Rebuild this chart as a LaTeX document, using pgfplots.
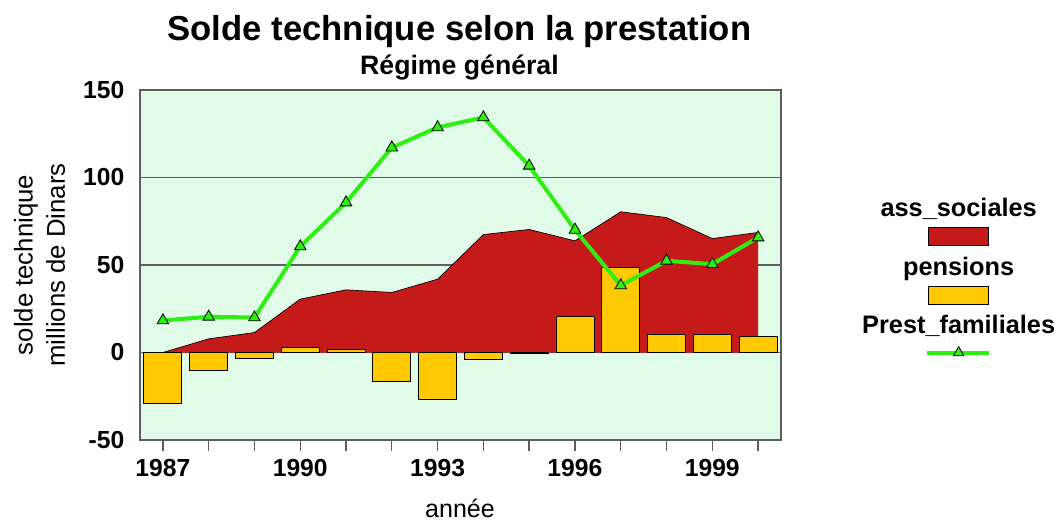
\documentclass[border=0pt]{standalone}
\usepackage{fontspec}
\setmainfont{Liberation Sans}
\usepackage{pgfplots}
\pgfplotsset{compat=1.18}

\definecolor{fond}{HTML}{E0FCE8}
\definecolor{rouge}{HTML}{C41A1A}
\definecolor{jaune}{HTML}{FFC800}
\definecolor{vert}{HTML}{2EEE12}
\definecolor{cadre}{HTML}{5E5E5E}

\begin{document}
\begin{tikzpicture}
\useasboundingbox (-105pt,-61.5pt) rectangle (689.25pt,330pt);
\begin{axis}[
  at={(0,0)}, anchor=south west,
  scale only axis, width=480.75pt, height=262.5pt,
  xmin=1986.5, xmax=2000.5, ymin=-50, ymax=150,
  axis background/.style={fill=fond},
  axis line style={draw=cadre, line width=1pt},
  xtick={1987,...,2000},
  xticklabels={1987,,,1990,,,1993,,,1996,,,1999,},
  ytick={-50,0,50,100,150},
  yticklabels={-50,0,50,100,150},
  xtick pos=bottom, ytick pos=left,
  tick align=outside,
  major tick length=8.25pt,
  x tick style={draw=cadre, line width=1pt},
  y tick style={draw=none},
  ymajorgrids,
  grid style={draw=cadre, line width=1pt},
  tick label style={font=\fontsize{18.5}{22}\selectfont\bfseries},
  xticklabel style={yshift=-3pt},
]
% ass_sociales
\addplot[fill=rouge, draw=none] coordinates {
  (1987,0) (1988,7.8) (1989,11.4) (1990,30.5) (1991,35.8) (1992,34.3) (1993,41.9)
  (1994,67.4) (1995,70.3) (1996,63.8) (1997,80.4) (1998,77.1) (1999,65.1) (2000,68.6)
} \closedcycle;
\addplot[draw=black, line width=0.5pt] coordinates {
  (1987,0) (1988,7.8) (1989,11.4) (1990,30.5) (1991,35.8) (1992,34.3) (1993,41.9)
  (1994,67.4) (1995,70.3) (1996,63.8) (1997,80.4) (1998,77.1) (1999,65.1) (2000,68.6)
};
% pensions
\addplot[ybar, bar width=28.5pt, fill=jaune, draw=black, line width=0.6pt] coordinates {
  (1987,-29.3) (1988,-10.5) (1989,-3.6) (1990,2.9) (1991,1.9) (1992,-16.4) (1993,-27.0)
  (1994,-3.8) (1995,-0.3) (1996,20.6) (1997,48.6) (1998,10.3) (1999,10.5) (2000,9.0)
};
% Prest_familiales
\addplot[color=vert, line width=3pt, mark=triangle*, mark size=5pt,
  mark options={fill=vert, draw=black, line width=0.6pt}] coordinates {
  (1987,18.3) (1988,20.4) (1989,20.0) (1990,60.6) (1991,85.7) (1992,117.1) (1993,128.6)
  (1994,134.3) (1995,106.7) (1996,70.1) (1997,38.3) (1998,52.4) (1999,50.5) (2000,65.7)
};
\end{axis}

% titres
\node[anchor=base, font=\fontsize{26}{30}\selectfont\bfseries] at (239.6pt,299.8pt)
  {Solde technique selon la prestation};
\node[anchor=base, font=\fontsize{20}{24}\selectfont\bfseries] at (239.6pt,273.75pt)
  {Régime général};
\node[rotate=90, anchor=base, font=\fontsize{19.3}{24}\selectfont] at (-80.5pt,131.25pt)
  {solde technique};
\node[rotate=90, anchor=base, font=\fontsize{19.3}{24}\selectfont] at (-56.25pt,131.25pt)
  {millions de Dinars};
\node[anchor=base, font=\fontsize{18.75}{22}\selectfont] at (240pt,-57.75pt) {année};

% légende
\node[anchor=base, font=\fontsize{19}{23}\selectfont\bfseries] at (614pt,167.5pt) {ass\_sociales};
\draw[draw=black, line width=0.6pt, fill=rouge] (591.5pt,145.7pt) rectangle (636.5pt,159.2pt);
\node[anchor=base, font=\fontsize{19}{23}\selectfont\bfseries] at (614pt,123.75pt) {pensions};
\draw[draw=black, line width=0.6pt, fill=jaune] (591.5pt,102pt) rectangle (636.5pt,115.5pt);
\node[anchor=base, font=\fontsize{19}{23}\selectfont\bfseries] at (614pt,80.25pt) {Prest\_familiales};
\draw[vert, line width=3pt] (590pt,65.5pt) -- (637pt,65.5pt);
\draw[fill=vert, draw=black, line width=0.6pt] (614pt,65.5pt) ++(90:4.5pt) -- ++(-120:7.79pt) -- ++(0:7.79pt) -- cycle;
\end{tikzpicture}
\end{document}
